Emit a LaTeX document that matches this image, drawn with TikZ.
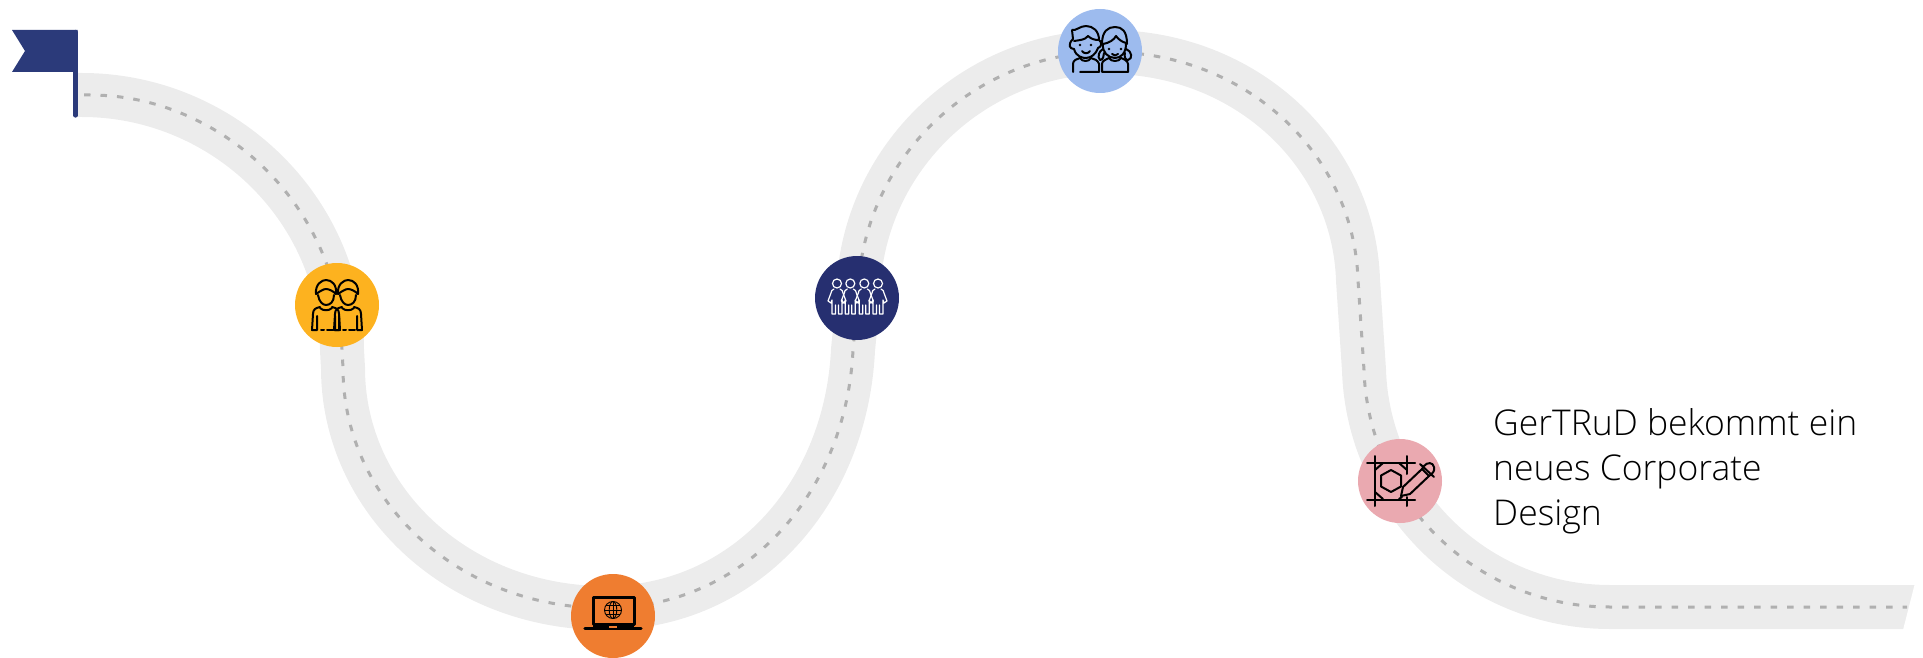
\documentclass[tikz,border=0pt]{standalone}
\usepackage{fontspec}
\setmainfont{Open Sans Light}
\definecolor{roadc}{HTML}{ECECEC}
\definecolor{dashc}{HTML}{B0B0B0}
\definecolor{flagc}{HTML}{2B3A7A}
\definecolor{cyellow}{HTML}{FDB21F}
\definecolor{cnavy}{HTML}{262F70}
\definecolor{cblue}{HTML}{9DBBEE}
\definecolor{cpink}{HTML}{EAA9B0}
\definecolor{corange}{HTML}{EF7D30}
\tikzset{
  stopc/.style={circle,minimum size=84pt,inner sep=0pt,draw=none},
  ic/.style={line width=2pt,line cap=round,line join=round,draw=black},
  icw/.style={line width=1.2pt,line cap=round,line join=round,draw=white},
}
\def\roadpath{(77,95) -- (82,95) .. controls (223,95) and (342,209) .. (342,350) -- (343,368)
 .. controls (343,500) and (458,608) .. (605,608) .. controls (744,608) and (846,495) .. (853,350)
 -- (858,300) .. controls (858,163) and (971,52) .. (1108,52) .. controls (1246,52) and (1354,154) .. (1358,280)
 -- (1364,370) .. controls (1368,500) and (1476,607) .. (1610,607) -- (1917,607)}
\newcommand{\boyfig}[1]{%
 \begin{scope}[xshift=#1pt]
  \draw[ic] (-10,-11) .. controls (-11,-21) and (-4,-25) .. (0,-25) .. controls (6,-25) and (11,-20) .. (10,-11);
  \draw[ic] (-10,-11) .. controls (-7,-13) and (-3,-16) .. (0,-16) .. controls (3,-16) and (7,-14) .. (10,-11);
  \draw[ic] (-8,-10) .. controls (-7,-3) and (-3,0) .. (0,0) .. controls (4,0) and (8,-3) .. (8,-10);
  \draw[ic] (-6,3) .. controls (-3,6) and (3,6) .. (6,3);
  \draw[ic] (-6,2) .. controls (-10,3) and (-13,4) .. (-13,9) -- (-14,25) -- (-9,25) -- (-9,11);
  \draw[ic] (6,2) .. controls (10,3) and (13,4) .. (13,9) -- (14,25) -- (9,25) -- (9,11);
  \draw[ic] (-5,25) -- (-2,25);
  \draw[ic] (1,25) -- (7,25);
 \end{scope}}
\newcommand{\dressfig}[1]{%
 \begin{scope}[xshift=#1pt]
  \draw[icw] (0,-14.5) circle (4.5);
  \draw[icw] (-3,-9) .. controls (-5,-8) and (-6,-7) .. (-6,-5) -- (-9,3) -- (-6,5) -- (-5,2) -- (-5,16) -- (-1.5,16) -- (-1.5,7) (1.5,7) -- (1.5,16) -- (5,16) -- (5,2) -- (6,5) -- (9,3) -- (6,-5) .. controls (6,-7) and (5,-8) .. (3,-9);
 \end{scope}}
\begin{document}
\begin{tikzpicture}[x=1pt,y=-1pt]
\useasboundingbox (0,0) rectangle (1923,658);
% road
\draw[roadc,line width=44pt] \roadpath;
\draw[dashc,line width=3pt,dash pattern=on 6.5pt off 10pt] (84,95) -- (90,95) .. controls (223,95) and (342,209) .. (342,350) -- (343,368)
 .. controls (343,500) and (458,608) .. (605,608) .. controls (744,608) and (846,495) .. (853,350)
 -- (858,300) .. controls (858,163) and (971,52) .. (1108,52) .. controls (1246,52) and (1354,154) .. (1358,280)
 -- (1364,370) .. controls (1368,500) and (1476,607) .. (1610,607) -- (1907,607);
\fill[white] (1915,583) -- (1903,630) -- (1923,632) -- (1923,582) -- cycle;
% flag
\fill[flagc] (12,30) -- (77.5,30) -- (77.5,72) -- (12,72) -- (25,51) -- cycle;
\draw[flagc,line width=4.2pt,line cap=round] (75.5,32) -- (75.5,115.5);
% stops
\node[stopc,fill=cyellow] (s1) at (337,305) {};
\node[stopc,fill=cnavy] (s2) at (857,298) {};
\node[stopc,fill=cblue] (s3) at (1100,51) {};
\node[stopc,fill=cpink] (s4) at (1400,481) {};
\node[stopc,fill=corange] (s5) at (613,616) {};
% icon 1
\begin{scope}[shift={(s1.center)}]
 \boyfig{-11}\boyfig{11}
\end{scope}
% icon 2
\begin{scope}[shift={(s2.center)}]
 \dressfig{-20}\dressfig{-6.7}\dressfig{7.3}\dressfig{21}
\end{scope}
% icon 3
\begin{scope}[shift={(s3.center)}]
 \draw[ic] (-28,-21) -- (-27,-12) .. controls (-33,-6) and (-30,-2) .. (-26,-2) .. controls (-24,6) and (-17,7) .. (-14,7) .. controls (-9,7) and (-4,3) .. (-2,-3) .. controls (2,-4) and (2,-9) .. (-1,-11) .. controls (-1,-20) and (-7,-25) .. (-14,-25) .. controls (-20,-25) and (-24,-20) .. (-28,-21);
 \draw[ic] (-26,-10) .. controls (-20,-11) and (-15,-11) .. (-12,-15) .. controls (-9,-12) and (-5,-11) .. (-2,-11);
 \fill (-20,-6) circle (1.4) (-9,-6) circle (1.4);
 \draw[ic] (-18,0) .. controls (-16,3) and (-12,3) .. (-10,0);
 \draw[ic] (-27,21) -- (-27,13) .. controls (-27,9) and (-23,8) .. (-20,7) .. controls (-18,11) and (-11,11) .. (-9,7) .. controls (-6,8) and (-2,9) .. (-1,13) -- (-1,21) -- (-20,21);
 \draw[ic] (2,-7) .. controls (2,-20) and (8,-24) .. (15,-24) .. controls (22,-24) and (27,-20) .. (27,-7);
 \draw[ic] (3,-7) .. controls (9,-8) and (14,-11) .. (16,-15) .. controls (18,-12) and (22,-9) .. (26,-8);
 \draw[ic] (3,-7) .. controls (2,1) and (8,7) .. (15,7) .. controls (21,7) and (26,2) .. (26,-7);
 \fill (9,-2) circle (1.4) (21,-2) circle (1.4);
 \draw[ic] (12,3) .. controls (14,5) and (16,5) .. (18,3);
 \draw[ic] (26,-2) .. controls (32,0) and (33,8) .. (28,9) .. controls (25,9) and (24,5) .. (25,2);
 \draw[ic] (3,-2) .. controls (-1,0) and (-3,6) .. (0,9) .. controls (3,9) and (4,5) .. (4,2);
 \draw[ic] (2,21) -- (2,13) .. controls (2,10) and (5,9) .. (9,7) .. controls (11,11) and (19,11) .. (21,7) .. controls (24,8) and (28,10) .. (28,13) -- (28,21) -- cycle;
\end{scope}
% icon 4
\begin{scope}[shift={(s4.center)}]
 \draw[ic] (-25,-25) -- (-25,25) (7,-25) -- (7,-7) (7,16) -- (7,25);
 \draw[ic] (-33,-18) -- (15,-18) (-33,19) -- (15,19);
 \draw[ic] (-9,-11) -- (1,-5.5) -- (1,5.5) -- (-9,11) -- (-19,5.5) -- (-19,-5.5) -- cycle;
 \draw[ic] (-17,-18) -- (-25,-11) (-1,-18) -- (7,-11) (-25,11) -- (-17,18) (-1,18) -- (2,16);
 \draw[ic] (3,6) -- (22,-12) -- (29,-5) -- (10,13) -- (1,15) -- cycle;
 \draw[ic] (22,-12) -- (24,-15) .. controls (27,-19) and (33,-19) .. (34,-14) .. controls (35,-10) and (33,-8) .. (29,-5);
 \draw[ic] (20,-17) -- (34,-4);
\end{scope}
% icon 5
\begin{scope}[shift={(s5.center)}]
 \draw[black,line width=3pt,line join=round] (-20,-19) rectangle (21,8);
 \draw[black,line width=3.4pt,line cap=round] (-28,12.5) -- (28,12.5);
 \fill[black] (-20,9) rectangle (21,11);
 \fill[corange] (-4,10) rectangle (4,11.5);
 \draw[black,line width=.9pt] (0,-6) circle (8.5);
 \draw[black,line width=.9pt] (0,-6) ellipse (3.8 and 8.5);
 \draw[black,line width=.9pt] (-8.5,-6) -- (8.5,-6) (-7.2,-10.5) -- (7.2,-10.5) (-7.2,-1.5) -- (7.2,-1.5) (0,-14.5) -- (0,2.5);
\end{scope}
% label
\node[anchor=north west,inner sep=0pt,align=left,text=black,font=\fontsize{35.5pt}{45pt}\selectfont] (lab) at (1493,408) {GerTRuD bekommt ein\\neues Corporate\\Design};
\end{tikzpicture}
\end{document}
